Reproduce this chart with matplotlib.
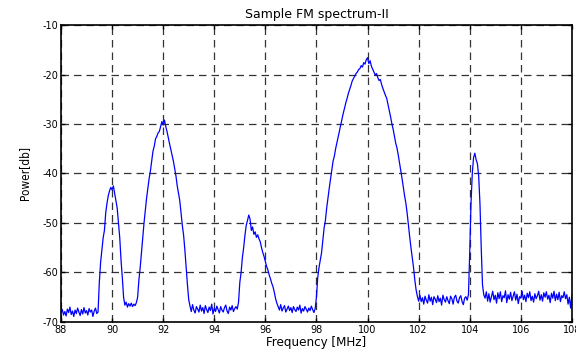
import numpy as np
import matplotlib
matplotlib.use("Agg")
import matplotlib.pyplot as plt

# Frequency grid start/step (MHz) and power values (dB)
f_start = 88.0
f_step = 0.05
power = [
    # 88.00 - 89.45 noise floor
    -68.2, -67.5, -68.6, -67.9, -68.8, -67.4, -68.1, -67.0, -68.5, -67.8,
    -68.9, -67.6, -68.3, -67.2, -68.0, -68.7, -67.5, -68.4, -67.1, -68.2,
    -67.7, -68.6, -67.3, -68.0, -67.6, -68.9, -67.8, -67.2, -68.3, -68.0,
    # 89.50 - 90.45 station near 90 MHz
    -62.0, -58.0, -55.5, -53.0, -51.5, -48.0, -46.0, -44.5, -43.5, -42.8,
    -43.3, -42.5, -44.0, -45.5, -47.0, -50.0, -53.0, -57.5, -61.0, -65.0,
    # 90.50 - 90.95 floor
    -66.6, -66.0, -67.0, -66.3, -66.8, -66.2, -66.9, -66.4, -66.7, -66.1,
    # 91.00 - 93.00 station near 92 MHz
    -65.0, -61.5, -59.0, -56.0, -52.8, -50.0, -47.5, -45.0, -43.0, -41.0,
    -39.5, -37.5, -35.5, -34.5, -33.0, -32.5, -31.8, -31.5, -30.5, -29.5,
    -30.2, -29.2, -30.5, -31.5, -32.8, -34.0, -35.2, -36.5, -37.5, -39.0,
    -40.5, -42.5, -44.0, -45.5, -48.0, -50.5, -52.5, -55.5, -59.0, -62.5,
    -65.5,
    # 93.05 - 94.90 floor
    -66.8, -67.9, -66.5, -67.6, -68.2, -66.9, -67.4, -68.0, -66.6, -67.8,
    -67.1, -68.3, -66.7, -67.5, -68.1, -67.0, -67.7, -66.4, -68.4, -67.2,
    -67.9, -66.8, -67.5, -68.2, -66.9, -67.6, -68.0, -67.1, -66.6, -67.8,
    -68.3, -67.0, -67.6, -66.7, -67.9, -67.3, -66.9, -67.4,
    # 94.95 - 96.45 station near 95.4 MHz
    -66.0, -62.0, -60.0, -57.0, -55.0, -52.5, -50.5, -49.5, -48.4, -49.2,
    -51.5, -50.8, -52.3, -51.8, -52.9, -52.4, -53.2, -53.8, -55.0, -56.0,
    -56.8, -57.8, -58.8, -59.5, -60.5, -61.3, -62.2, -62.9, -64.0, -65.3,
    -66.2,
    # 96.50 - 97.95 floor
    -66.9, -67.6, -66.5, -67.8, -67.2, -66.7, -68.0, -67.4, -66.8, -67.7,
    -67.1, -68.1, -66.9, -67.5, -67.9, -67.0, -67.6, -66.6, -68.2, -67.3,
    -67.8, -66.9, -67.4, -68.0, -67.2, -67.7, -66.8, -67.5, -68.1, -67.3,
    # 98.00 - 102.00 strong station near 100 MHz
    -65.0, -61.0, -59.0, -57.5, -56.0, -53.5, -51.0, -49.5, -47.0, -45.0,
    -43.0, -41.2, -39.5, -37.5, -36.5, -35.0, -33.8, -32.6, -31.5, -30.2,
    -29.0, -27.8, -26.8, -25.7, -24.8, -23.8, -23.0, -22.2, -21.3, -20.8,
    -20.3, -19.8, -19.5, -19.0, -18.8, -18.2, -18.5, -17.6, -17.9, -17.0,
    -16.6, -17.8, -17.2, -18.3, -18.9, -19.5, -20.1, -19.8, -20.6, -21.2,
    -21.0, -22.0, -22.8, -23.5, -24.2, -24.8, -26.0, -27.2, -28.5, -29.9,
    -31.0, -32.4, -33.8, -34.8, -36.2, -37.8, -39.5, -41.0, -42.8, -44.5,
    -46.0, -48.0, -50.5, -52.8, -55.0, -57.0, -59.0, -61.5, -63.5, -64.8,
    -65.8,
    # 102.05 - 103.90 floor
    -64.6, -65.9, -65.1, -66.4, -64.8, -65.6, -66.2, -64.5, -65.8, -65.0,
    -66.5, -64.9, -65.4, -66.1, -64.7, -65.9, -65.2, -66.6, -64.6, -65.5,
    -66.0, -64.9, -65.7, -66.3, -64.8, -65.3, -66.4, -65.0, -64.6, -65.8,
    -66.2, -65.1, -64.7, -65.9, -66.5, -65.2, -64.9, -65.6,
    # 103.95 - 104.55 narrow station near 104.2 MHz
    -64.5, -56.0, -46.0, -40.0, -36.8, -35.9, -37.2, -38.0, -40.5, -46.0,
    -55.0, -62.5, -64.5,
    # 104.60 - 108.00 floor
    -65.2, -63.9, -65.8, -64.3, -66.0, -64.9, -63.8, -65.5, -64.6, -66.2,
    -64.1, -65.3, -63.9, -65.9, -64.7, -65.1, -63.7, -66.1, -64.5, -65.4,
    -64.0, -65.7, -64.8, -63.9, -65.6, -64.4, -66.3, -64.9, -65.2, -63.8,
    -65.5, -64.6, -65.9, -64.2, -65.1, -63.9, -65.7, -64.8, -66.0, -64.3,
    -65.3, -64.7, -63.8, -65.6, -64.5, -65.8, -64.1, -65.0, -63.9, -65.4,
    -64.6, -66.1, -64.2, -65.2, -63.8, -65.7, -64.4, -65.5, -64.0, -65.9,
    -64.7, -65.1, -63.9, -65.3, -64.5, -66.4, -65.0, -67.2, -64.6,
]
assert len(power) == 401, len(power)
freq = f_start + f_step * np.arange(len(power))

x_ticks = [88, 90, 92, 94, 96, 98, 100, 102, 104, 106, 108]
y_ticks = [-70, -60, -50, -40, -30, -20, -10]
title = "Sample FM spectrum-II"
x_label = "Frequency [MHz]"
y_label = "Power[db]"

fig = plt.figure(figsize=(5.76, 3.53), dpi=100)
ax = fig.add_axes([0.1059, 0.088, 0.887, 0.841])
ax.plot(freq, power, color=(0, 0, 1), linewidth=0.9)

ax.set_xlim(88, 108)
ax.set_ylim(-70, -10)
ax.set_xticks(x_ticks)
ax.set_yticks(y_ticks)
ax.set_xticklabels([str(t) for t in x_ticks], fontsize=7)
ax.set_yticklabels([str(t) for t in y_ticks], fontsize=7)
ax.tick_params(direction="in", top=True, right=True, length=3, width=1, pad=2)
for s in ax.spines.values():
    s.set_linewidth(1.2)
ax.grid(True, color="black", linestyle=(0, (6, 4)), linewidth=0.9, alpha=0.8)

ax.set_title(title, fontsize=9, pad=5)
ax.set_xlabel(x_label, fontsize=9.5, labelpad=1, fontstretch="condensed")
ax.set_ylabel(y_label, fontsize=8.5, labelpad=8, fontstretch="condensed")

fig.savefig("out.png", dpi=100)
